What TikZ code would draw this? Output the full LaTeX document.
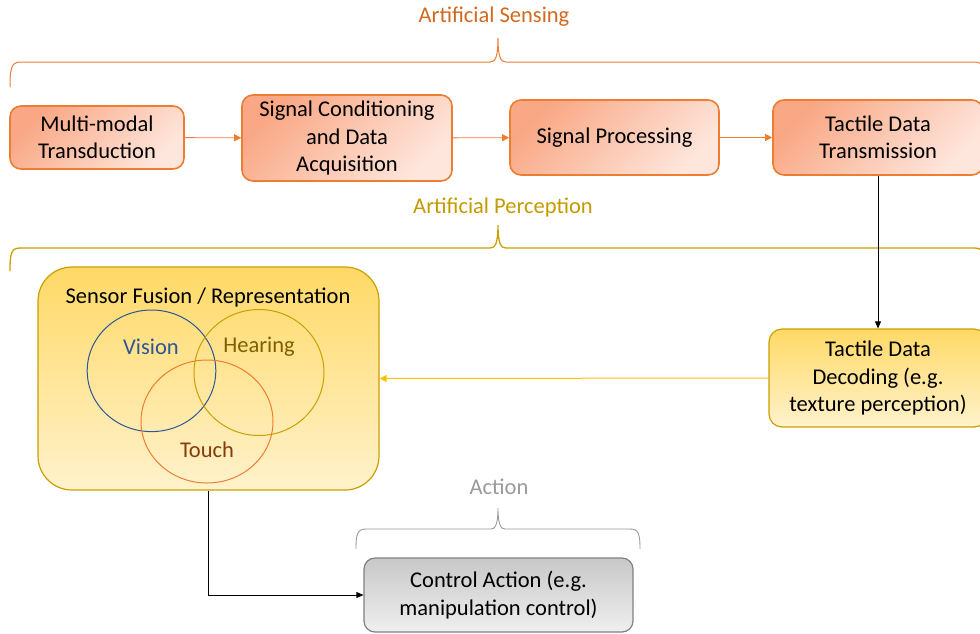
\documentclass[tikz,border=0pt]{standalone}
\usepackage{fontspec}
\setmainfont{Carlito}
\usetikzlibrary{arrows.meta}
\definecolor{orB}{HTML}{ED7D31}
\definecolor{orT}{HTML}{D2691E}
\definecolor{orTop}{HTML}{F9A784}
\definecolor{orBot}{HTML}{FEE6DC}
\definecolor{goB}{HTML}{C9A000}
\definecolor{goT}{HTML}{C39B00}
\definecolor{yeTop}{HTML}{FFD966}
\definecolor{yeBot}{HTML}{FFF2CC}
\definecolor{yeArr}{HTML}{FFC000}
\definecolor{grB}{HTML}{808080}
\definecolor{grT}{HTML}{9A9A9A}
\definecolor{grTop}{HTML}{C8C8C8}
\definecolor{grBot}{HTML}{EFEFEF}
\definecolor{viB}{HTML}{2F5597}
\definecolor{heT}{HTML}{7F6000}
\definecolor{toT}{HTML}{843C0C}
\tikzset{
  txt/.style={font=\fontsize{22.5}{27.5}\selectfont, align=center, inner sep=0pt},
  orbox/.style={txt, draw=orB, line width=1.6pt, rounded corners=11pt,
    top color=orTop, bottom color=orBot, shading angle=45},
  yebox/.style={txt, draw=goB, line width=1.2pt, top color=yeTop, bottom color=yeBot},
  grbox/.style={txt, draw=grB, line width=1.2pt, rounded corners=11pt,
    top color=grTop, bottom color=grBot},
  orarr/.style={draw=orB, line width=0.9pt, -{Triangle[length=7pt,width=7pt]}},
  blarr/.style={draw=black, line width=0.8pt, -{Triangle[length=7pt,width=6pt]}},
  yearr/.style={draw=yeArr, line width=1pt, -{Triangle[length=7pt,width=7pt]}},
  brace/.style={line width=1pt}
}
\begin{document}
\begin{tikzpicture}[x=1pt,y=-1pt]
\useasboundingbox (0,0) rectangle (980,633);
% headings
\node[txt, text=orT] (hs) at (494,17) {Artificial Sensing};
\node[txt, text=goT] (hp) at (503,207) {Artificial Perception};
\node[txt, text=grT] (ha) at (499,487) {Action};
% braces
\draw[brace, orB] (10,87) .. controls (10,70) and (11,62) .. (20,62) -- (490,62)
  .. controls (495,62) and (498,58) .. (498,38)
  .. controls (498,58) and (501,62) .. (506,62) -- (975,62)
  .. controls (984,62) and (985,70) .. (985,87);
\draw[brace, goB, line width=1.3pt] (10,271) .. controls (10,254) and (11,248) .. (20,248) -- (490,248)
  .. controls (495,248) and (498,244) .. (498,225)
  .. controls (498,244) and (501,248) .. (506,248) -- (975,248)
  .. controls (984,248) and (985,256) .. (985,271);
\draw[brace, grT, line width=0.9pt] (356,549) .. controls (356,535) and (357,529) .. (366,529) -- (491,529)
  .. controls (495,529) and (498,525) .. (498,508)
  .. controls (498,525) and (501,529) .. (505,529) -- (630,529)
  .. controls (639,529) and (640,535) .. (640,549);
% top row
\node[orbox, minimum width=174pt, minimum height=63pt] (m1) at (97,137.5) {Multi-modal\\Transduction};
\node[orbox, minimum width=210pt, minimum height=86pt] (m2) at (347,138) {Signal Conditioning\\and Data\\Acquisition};
\node[orbox, minimum width=209pt, minimum height=75pt] (m3) at (614.5,137.5) {Signal Processing};
\node[orbox, minimum width=210pt, minimum height=75pt] (m4) at (878,137.5) {Tactile Data\\Transmission};
\draw[orarr] (m1) -- (m2);
\draw[orarr] (m2) -- (m3);
\draw[orarr] (m3) -- (m4);
% decoding
\node[yebox, rounded corners=13pt, minimum width=218pt, minimum height=98pt] (dec) at (878,378) {Tactile Data\\Decoding (e.g.\\texture perception)};
\draw[blarr] (m4.south) -- (dec.north);
% fusion
\node[yebox, rounded corners=34pt, minimum width=341pt, minimum height=223pt] (fus) at (208.5,378.5) {};
\node[txt] (fust) at (208,297) {Sensor Fusion / Representation};
\draw[viB, line width=1pt] (151.5,370.8) ellipse [x radius=64.3pt, y radius=60.8pt];
\draw[goB, line width=1pt] (259,372.5) ellipse [x radius=65pt, y radius=63pt];
\draw[orB, line width=1pt] (207,421.5) ellipse [x radius=66pt, y radius=61.5pt];
\node[txt, text=viB] (vis) at (151,347) {Vision};
\node[txt, text=heT] (hea) at (259,347) {Hearing};
\node[txt, text=toT] (tou) at (207,450) {Touch};
\draw[yearr] (dec.west) -- (fus.east);
% control
\node[grbox, minimum width=269pt, minimum height=74pt] (ctl) at (498.5,595) {Control Action (e.g.\\manipulation control)};
\draw[blarr] (fus.south) |- (ctl.west);
\end{tikzpicture}
\end{document}
